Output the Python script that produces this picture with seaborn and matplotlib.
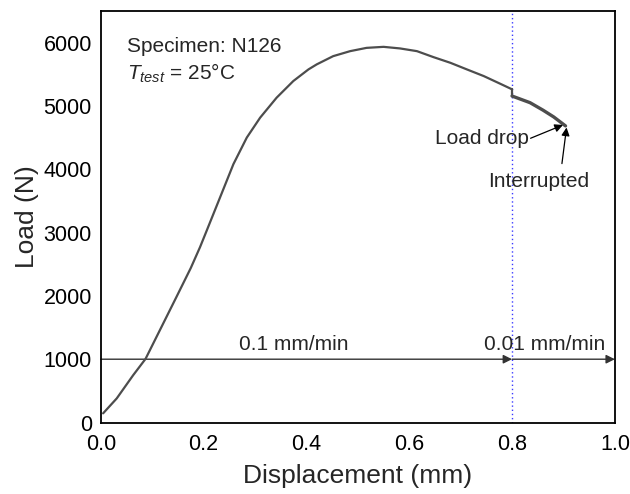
import matplotlib
matplotlib.use("Agg")
import matplotlib.pyplot as plt
import seaborn as sns
import pandas as pd
from matplotlib.ticker import MultipleLocator, FormatStrFormatter

# ---- data ----
disp_fast = [0.0045, 0.031, 0.063, 0.087, 0.118, 0.147, 0.175, 0.193, 0.206, 0.232,
             0.258, 0.284, 0.310, 0.342, 0.3745, 0.404, 0.420, 0.452, 0.485, 0.517,
             0.550, 0.582, 0.615, 0.647, 0.680, 0.712, 0.745, 0.777, 0.800]
load_fast = [145, 381, 748, 1005, 1509, 1981, 2440, 2770, 3031, 3556,
             4082, 4501, 4816, 5131, 5394, 5578, 5657, 5787, 5866, 5918,
             5934, 5909, 5866, 5772, 5682, 5578, 5472, 5351, 5263]
disp_slow = [0.800, 0.835, 0.860, 0.881, 0.904]
load_slow = [5157, 5052, 4935, 4827, 4685]

rate_labels = ["0.1 mm/min", "0.01 mm/min"]
rate_bounds = [0.0, 0.8, 1.0]
rate_level = 1000
x_ticks = [0.0, 0.2, 0.4, 0.6, 0.8, 1.0]
y_ticks = [0, 1000, 2000, 3000, 4000, 5000, 6000]

sns.set_style("white")
plt.rcParams["font.family"] = ["Liberation Sans", "DejaVu Sans"]
plt.rcParams["mathtext.fontset"] = "custom"
plt.rcParams["mathtext.rm"] = "Liberation Sans"
plt.rcParams["mathtext.it"] = "Liberation Sans:italic"

fig = plt.figure(figsize=(6.3, 4.94), dpi=100)
ax = fig.add_axes([0.160, 0.1447, 0.816, 0.833])

df1 = pd.DataFrame({"d": disp_fast, "l": load_fast})
df2 = pd.DataFrame({"d": disp_slow, "l": load_slow})
curve_color = "#4d4d4d"
fs = 15

# dotted blue rate-change line
ax.axvline(rate_bounds[1], color="#3b3bff", ls=(0, (1, 2)), lw=1.0, zorder=1)

sns.lineplot(data=df1, x="d", y="l", ax=ax, color=curve_color, lw=1.6,
             sort=False, estimator=None, zorder=3)
sns.lineplot(data=df2, x="d", y="l", ax=ax, color=curve_color, lw=2.4,
             sort=False, estimator=None, zorder=3)
# connect drop
ax.plot([disp_fast[-1], disp_slow[0]], [load_fast[-1], load_slow[0]],
        color=curve_color, lw=1.6, zorder=3)

# rate arrows
for i in range(2):
    ax.annotate("", xy=(rate_bounds[i + 1], rate_level), xytext=(rate_bounds[i], rate_level),
                arrowprops=dict(arrowstyle="-|>", color="#333333", lw=1.0,
                                mutation_scale=13, shrinkA=0, shrinkB=0), zorder=2)
ax.text(0.376, 1140, rate_labels[0], ha="center", va="baseline", fontsize=fs)
ax.text(0.863, 1140, rate_labels[1], ha="center", va="baseline", fontsize=fs)

# annotations
ax.text(0.05, 5850, "Specimen: N126", ha="left", va="baseline", fontsize=fs)
ax.text(0.05, 5420, r"$T_{test}$ = 25°C", ha="left", va="baseline", fontsize=fs)

ax.text(0.833, 4480, "Load drop", ha="right", va="center", fontsize=fs)
ax.annotate("", xy=(0.899, 4700), xytext=(0.836, 4490),
            arrowprops=dict(arrowstyle="-|>", color="k", lw=0.9,
                            mutation_scale=12, shrinkA=0, shrinkB=0))
ax.text(0.851, 3800, "Interrupted", ha="center", va="center", fontsize=fs)
ax.annotate("", xy=(0.906, 4660), xytext=(0.897, 4090),
            arrowprops=dict(arrowstyle="-|>", color="k", lw=0.9,
                            mutation_scale=12, shrinkA=0, shrinkB=0))

ax.set_xlim(0, 1.0)
ax.set_ylim(0, 6500)
ax.set_xticks(x_ticks)
ax.set_yticks(y_ticks)
ax.xaxis.set_minor_locator(MultipleLocator(0.1))
ax.yaxis.set_minor_locator(MultipleLocator(500))
ax.xaxis.set_major_formatter(FormatStrFormatter("%.1f"))
ax.tick_params(which="both", direction="in", top=False, right=False,
               labelsize=15.5, colors="black", width=1.2)
ax.tick_params(which="major", length=6)
ax.tick_params(which="minor", length=3.5)
ax.tick_params(axis="x", pad=8)
ax.tick_params(axis="y", pad=6.5)
for s in ax.spines.values():
    s.set_visible(True)
    s.set_color("black")
    s.set_linewidth(1.3)

ax.set_xlabel("Displacement (mm)", fontsize=19, labelpad=7)
ax.set_ylabel("Load (N)", fontsize=19, labelpad=3)

fig.savefig("out.png", dpi=100)
